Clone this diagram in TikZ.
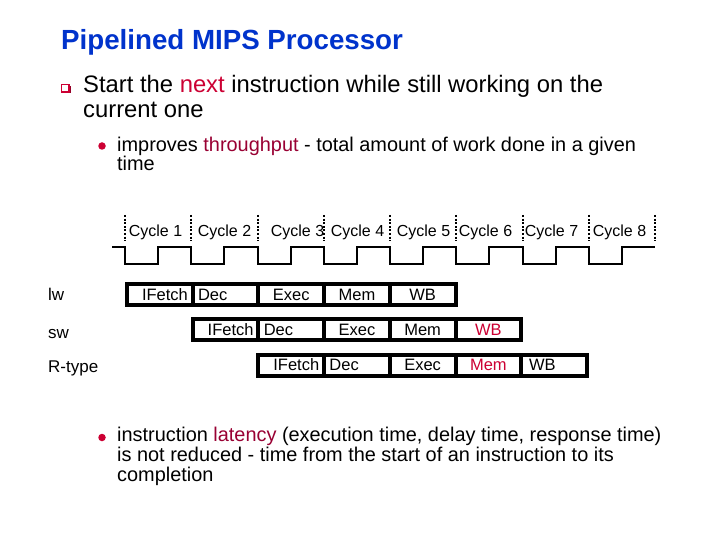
\documentclass[tikz,border=0pt]{standalone}
\usepackage{fontspec}
\setmainfont{Liberation Sans}
\definecolor{titleblue}{RGB}{0,51,204}
\definecolor{redA}{RGB}{204,0,51}
\definecolor{redB}{RGB}{153,0,51}
\definecolor{redShadow}{RGB}{150,0,40}
\begin{document}
\begin{tikzpicture}[x=1pt,y=-1pt,
  txt/.style={anchor=base west, inner sep=0pt},
  bigtxt/.style={txt, font=\fontsize{23.8}{25}\selectfont},
  subtxt/.style={txt, font=\fontsize{19.9}{22}\selectfont},
  rowlabel/.style={txt, font=\fontsize{17}{18}\selectfont},
  cyclelabel/.style={anchor=base, inner sep=0pt, font=\fontsize{16}{18}\selectfont},
  stage/.style={draw=black, line width=4pt, minimum width=65.7pt, minimum height=21pt,
    inner sep=0pt, font=\fontsize{16.5}{18}\selectfont},
  leftstage/.style={stage, text width=55pt, align=left},
  rightstage/.style={stage, text width=56pt, align=right},
  wbleft/.style={stage, text width=50pt, align=left},
  clockline/.style={line width=2pt, black},
  tickline/.style={line width=2pt, black, dash pattern=on 2pt off 1.6pt},
  dotbullet/.style={circle, fill=redA, inner sep=0pt, minimum size=7.5pt}
]
\useasboundingbox[fill=white] (0,0) rectangle (720,540);

% title
\node[txt, font=\fontsize{27.7}{30}\selectfont\bfseries, text=titleblue] (title) at (61,50) {Pipelined MIPS Processor};

% square bullet
\fill[redShadow] (63,86) rectangle (70.5,93.5);
\filldraw[fill=white, draw=redA, line width=1.3pt] (61.5,84.5) rectangle (69,92);
\node[bigtxt] (l1) at (83,93) {Start the \textcolor{redA}{next} instruction while still working on the};
\node[bigtxt] (l2) at (83,118) {current one};

% sub bullet 1
\node[dotbullet] (d1) at (102,146) {};
\node[subtxt] (s1) at (117,152) {improves \textcolor{redB}{throughput} - total amount of work done in a given};
\node[subtxt] (s2) at (117,171) {time};

% clock
\draw[clockline] (112,247)
  foreach \k in {0,...,7} {
    -- ({125+66.25*\k},247) -- ({125+66.25*\k},264)
    -- ({158.125+66.25*\k},264) -- ({158.125+66.25*\k},247)
  } -- (655,247);
\foreach \k in {0,...,8} \draw[tickline] ({125+66.25*\k},215) -- ({125+66.25*\k},241);

\node[cyclelabel] (c1) at (155.5,236.5) {Cycle 1};
\node[cyclelabel] (c2) at (224.5,236.5) {Cycle 2};
\node[cyclelabel] (c3) at (297.5,236.5) {Cycle 3};
\node[cyclelabel] (c4) at (357.5,236.5) {Cycle 4};
\node[cyclelabel] (c5) at (423.5,236.5) {Cycle 5};
\node[cyclelabel] (c6) at (485.5,236.5) {Cycle 6};
\node[cyclelabel] (c7) at (551.5,236.5) {Cycle 7};
\node[cyclelabel] (c8) at (619.5,236.5) {Cycle 8};

% row labels
\node[rowlabel] (lw) at (48,300) {lw};
\node[rowlabel] (sw) at (48,338) {sw};
\node[rowlabel] (rt) at (48,372) {R-type};

% lw row
\node[rightstage] (a1) at (159.85,294.5) {IFetch};
\node[leftstage]  (a2) at (225.55,294.5) {Dec};
\node[stage]      (a3) at (291.25,294.5) {Exec};
\node[stage]      (a4) at (356.95,294.5) {Mem};
\node[stage]      (a5) at (422.65,294.5) {WB};

% sw row
\node[rightstage] (b1) at (225.55,329.5) {IFetch};
\node[leftstage]  (b2) at (291.25,329.5) {Dec};
\node[stage]      (b3) at (356.95,329.5) {Exec};
\node[stage]      (b4) at (422.65,329.5) {Mem};
\node[stage, text=redA] (b5) at (488.35,329.5) {WB};

% R-type row
\node[rightstage] (r1) at (291.25,365) {IFetch};
\node[leftstage]  (r2) at (356.95,365) {Dec};
\node[stage]      (r3) at (422.65,365) {Exec};
\node[stage, text=redA] (r4) at (488.35,365) {Mem};
\node[wbleft]     (r5) at (554.05,365) {WB};

% sub bullet 2
\node[dotbullet] (d2) at (102,437.5) {};
\node[subtxt] (t1) at (117,441) {instruction \textcolor{redB}{latency} (execution time, delay time, response time)};
\node[subtxt] (t2) at (117,461) {is not reduced - time from the start of an instruction to its};
\node[subtxt] (t3) at (117,481) {completion};
\end{tikzpicture}
\end{document}
